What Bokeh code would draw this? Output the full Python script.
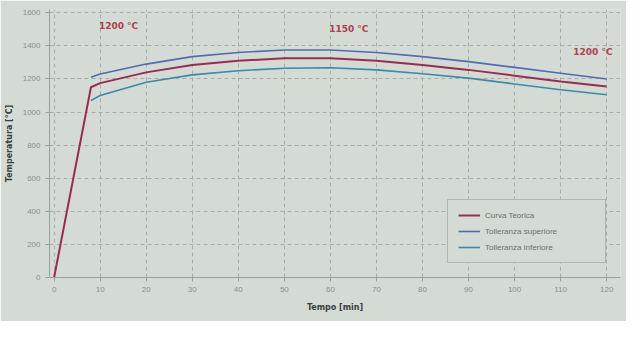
from bokeh.plotting import figure
from bokeh.models import Legend, LegendItem, Label, FixedTicker, Range1d
from bokeh.embed import file_html
from bokeh.resources import INLINE

# data
t_teorica = [0, 8, 10, 20, 30, 40, 50, 60, 70, 80, 90, 100, 110, 120]
v_teorica = [0, 1150, 1175, 1240, 1285, 1310, 1325, 1325, 1310, 1285, 1255, 1220, 1185, 1155]
t_tol = [8, 10, 20, 30, 40, 50, 60, 70, 80, 90, 100, 110, 120]
v_sup = [1210, 1230, 1290, 1335, 1360, 1375, 1375, 1360, 1335, 1305, 1270, 1235, 1200]
v_inf = [1070, 1100, 1180, 1225, 1250, 1265, 1268, 1255, 1232, 1205, 1170, 1135, 1105]
x_ticks = [0, 10, 20, 30, 40, 50, 60, 70, 80, 90, 100, 110, 120]
y_ticks = [0, 200, 400, 600, 800, 1000, 1200, 1400, 1600]
annotations = [(14, 1490, "1200 °C"), (64, 1470, "1150 °C"), (117, 1330, "1200 °C")]

bg = "#d4dbd5"
p = figure(width=626, height=321, output_backend="svg", toolbar_location=None,
           x_range=Range1d(-1, 123), y_range=Range1d(0, 1620),
           background_fill_color=bg, border_fill_color=bg,
           min_border_left=49, min_border_right=6, min_border_top=9, min_border_bottom=44)
p.outline_line_color = None

r1 = p.line(t_teorica, v_teorica, line_color="#9a2c4e", line_width=2)
r2 = p.line(t_tol, v_sup, line_color="#4d6db0", line_width=1.6)
r3 = p.line(t_tol, v_inf, line_color="#3a8aa8", line_width=1.6)

for xa, ya, txt in annotations:
    p.add_layout(Label(x=xa, y=ya, text=txt, text_color="#b0404e", text_font_size="9px",
                       text_font_style="bold", text_align="center", text_font="DejaVu Sans"))

p.xaxis.ticker = FixedTicker(ticks=x_ticks)
p.yaxis.ticker = FixedTicker(ticks=y_ticks)
p.xaxis.axis_label = "Tempo [min]"
p.yaxis.axis_label = "Temperatura [°C]"
for ax in (p.xaxis[0], p.yaxis[0]):
    ax.axis_label_text_font_size = "8px"
    ax.axis_label_text_font_style = "bold"
    ax.axis_label_text_color = "#3a3f3c"
    ax.axis_label_text_font = "DejaVu Sans"
    ax.major_label_text_font_size = "8px"
    ax.major_label_text_color = "#8a908c"
    ax.axis_line_color = "#9aa19c"
    ax.major_tick_line_color = "#9aa19c"
    ax.minor_tick_line_color = None
    ax.major_tick_in = 0
    ax.major_tick_out = 4
p.xaxis.axis_label_standoff = 8
p.yaxis.axis_label_standoff = 6

p.xgrid.ticker = FixedTicker(ticks=x_ticks)
p.ygrid.ticker = FixedTicker(ticks=y_ticks)
for g in (p.xgrid[0], p.ygrid[0]):
    g.grid_line_color = "#a7aea9"
    g.grid_line_dash = "4 3"
    g.grid_line_width = 1

legend = Legend(items=[LegendItem(label="Curva Teorica", renderers=[r1]),
                       LegendItem(label="Tolleranza superiore", renderers=[r2]),
                       LegendItem(label="Tolleranza inferiore", renderers=[r3])],
                location="bottom_right")
legend.background_fill_color = bg
legend.border_line_color = "#8c938e"
legend.label_text_font_size = "8px"
legend.label_text_color = "#6a706c"
legend.glyph_width = 22
legend.glyph_height = 10
legend.spacing = 6
legend.padding = 10
legend.margin = 14
legend.label_width = 110
p.add_layout(legend)

open("out.html", "w").write(file_html(p, INLINE))
